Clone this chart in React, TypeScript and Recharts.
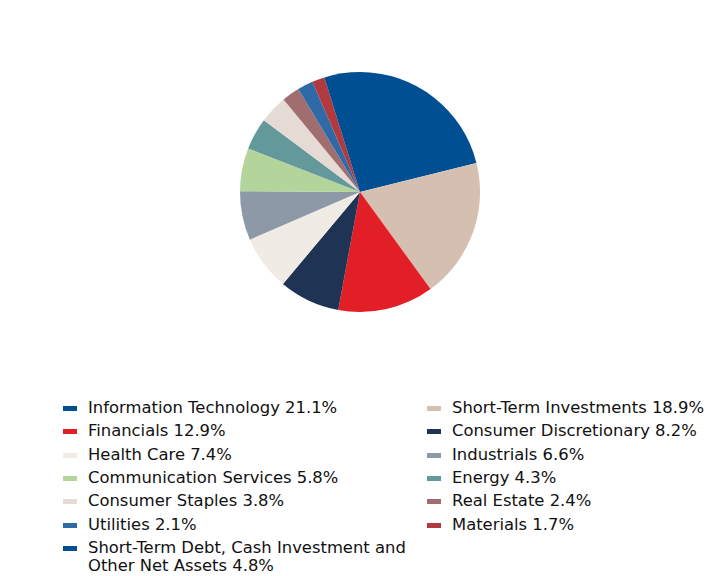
import React from 'react';
import { PieChart, Pie, Cell, Legend } from 'recharts';

const sectors = [
  'Information Technology',
  'Short-Term Investments',
  'Financials',
  'Consumer Discretionary',
  'Health Care',
  'Industrials',
  'Communication Services',
  'Energy',
  'Consumer Staples',
  'Real Estate',
  'Utilities',
  'Materials',
  'Short-Term Debt, Cash Investment and Other Net Assets',
];
const weights = [21.1, 18.9, 12.9, 8.2, 7.4, 6.6, 5.8, 4.3, 3.8, 2.4, 2.1, 1.7, 4.8];
const colors = [
  '#004f93', '#d4bfb1', '#e21f26', '#1f3354', '#f0ebe5', '#8e99a8', '#b3d49a',
  '#64999b', '#e5dad4', '#a06e6f', '#2e6ba6', '#b03a40', '#004f93',
];

const data = sectors.map((name, i) => ({ name, value: weights[i] }));

const LegendContent = () => (
  <div
    style={{
      display: 'grid',
      gridTemplateColumns: '364px 300px',
      fontFamily: '"DejaVu Sans", Verdana, sans-serif',
      fontSize: 16.4,
      color: '#111',
    }}
  >
    {data.map((d, i) => (
      <div
        key={d.name}
        style={{ display: 'flex', alignItems: 'flex-start', lineHeight: '18px', marginBottom: 5.33 }}
      >
        <span
          style={{
            display: 'inline-block',
            width: 14,
            height: 5,
            background: colors[i],
            marginTop: 7,
            marginRight: 11,
            flexShrink: 0,
          }}
        />
        <span style={{ maxWidth: 335 }}>{`${d.name} ${d.value.toFixed(1)}%`}</span>
      </div>
    ))}
  </div>
);

export default function App() {
  return (
    <PieChart width={720} height={576}>
      <Pie
        data={data}
        dataKey="value"
        nameKey="name"
        cx={347}
        cy={179}
        outerRadius={120}
        startAngle={90}
        endAngle={-270}
        stroke="none"
        isAnimationActive={false}
      >
        {data.map((d, i) => (
          <Cell key={d.name} fill={colors[i]} />
        ))}
      </Pie>
      <Legend
        content={<LegendContent />}
        wrapperStyle={{ position: 'absolute', left: 55, top: 391, width: 670 }}
      />
    </PieChart>
  );
}
